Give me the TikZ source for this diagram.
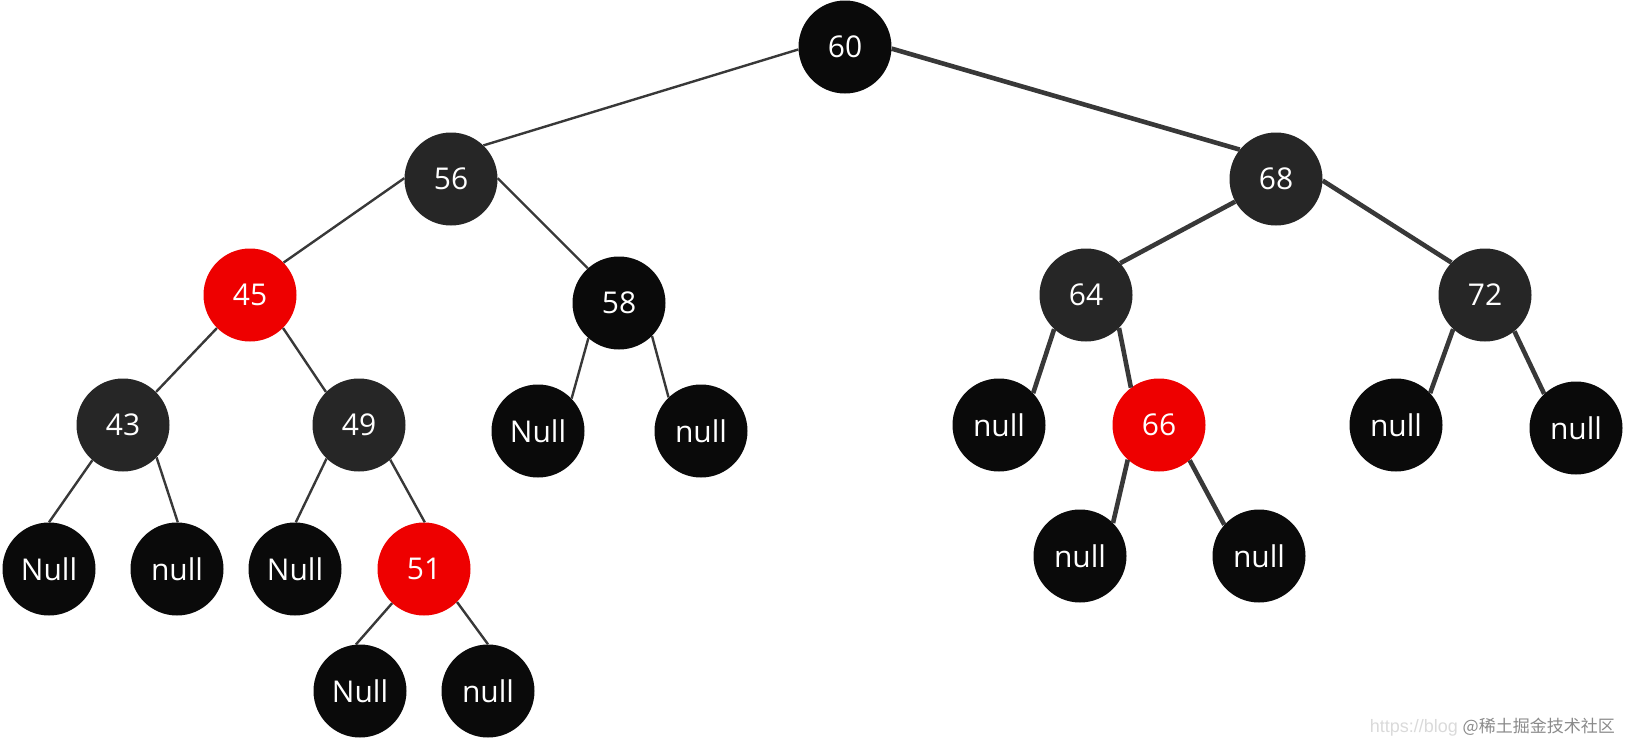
\documentclass[tikz,border=0pt]{standalone}
\usepackage{fontspec}
\setmainfont{Open Sans}
\newfontfamily\cjkfont{Noto Sans CJK SC}
\newfontfamily\wmfont{Liberation Sans}
\definecolor{nodeblack}{HTML}{0A0A0A}
\definecolor{nodegray}{HTML}{262626}
\definecolor{nodered}{HTML}{EE0000}
\definecolor{edgecol}{HTML}{383838}
\definecolor{wmlight}{HTML}{DADADA}
\definecolor{wmdark}{HTML}{8A8A8A}
\begin{document}
\begin{tikzpicture}[x=1pt,y=-1pt,
  tn/.style={circle,minimum size=93pt,inner sep=0pt,text=white,font=\fontsize{30}{32}\selectfont},
  blk/.style={tn,fill=nodeblack},
  gry/.style={tn,fill=nodegray},
  red/.style={tn,fill=nodered},
  thin/.style={draw=edgecol,line width=2.4pt},
  thick/.style={draw=edgecol,line width=4.6pt}]
\useasboundingbox (0,0) rectangle (1625,742);
% nodes
\node[blk] (n60) at (845,47) {60};
\node[gry] (n56) at (451,179) {56};
\node[gry] (n68) at (1276,179) {68};
\node[red] (n45) at (250,295) {45};
\node[blk] (n58) at (619,303) {58};
\node[gry] (n64) at (1086,295) {64};
\node[gry] (n72) at (1485,295) {72};
\node[gry] (n43) at (123,425) {43};
\node[gry] (n49) at (359,425) {49};
\node[blk] (nN58) at (538,431) {Null};
\node[blk] (nn58) at (701,431) {null};
\node[blk] (nn64) at (999,425) {null};
\node[red] (n66) at (1159,425) {66};
\node[blk] (nn72a) at (1396,425) {null};
\node[blk] (nn72b) at (1576,428) {null};
\node[blk] (nN43) at (49,569) {Null};
\node[blk] (nn43) at (177,569) {null};
\node[blk] (nN49) at (295,569) {Null};
\node[red] (n51) at (424,569) {51};
\node[blk] (nn66a) at (1080,556) {null};
\node[blk] (nn66b) at (1259,556) {null};
\node[blk] (nN51) at (360,691) {Null};
\node[blk] (nn51) at (488,691) {null};
% edges
\draw[thin] (n60.183) -- (n56.46);
\draw[thick] (n60.358) -- (n68.141);
\draw[thin] (n56.179) -- (n45.44);
\draw[thin] (n56.1) -- (n58.132);
\draw[thin] (n45.225) -- (n43.45);
\draw[thin] (n45.315) -- (n49.135);
\draw[thin] (n58.229) -- (nN58.44);
\draw[thin] (n58.315) -- (nn58.134);
\draw[thin] (n43.229) -- (nN43.90);
\draw[thin] (n43.316) -- (nn43.89);
\draw[thin] (n49.226) -- (nN49.89);
\draw[thin] (n49.312) -- (n51.89);
\draw[thin] (n51.227) -- (nN51.95);
\draw[thin] (n51.315) -- (nn51.90);
\draw[thick] (n68.209) -- (n64.43);
\draw[thick] (n68.358) -- (n72.136);
\draw[thick] (n64.227) -- (nn64.43);
\draw[thick] (n64.315) -- (n66.127);
\draw[thick] (n66.228) -- (nn66a.45);
\draw[thick] (n66.311) -- (nn66b.138);
\draw[thick] (n72.227) -- (nn72a.43);
\draw[thick] (n72.309) -- (nn72b.133);
% watermark
\node[anchor=base east,inner sep=0pt,text=wmlight,font=\wmfont\fontsize{18}{19}\selectfont] (wm1) at (1458,732) {https://blog};
\node[anchor=base east,inner sep=0pt,text=wmdark,font=\cjkfont\fontsize{17}{18}\selectfont] (wm2) at (1615,732) {@稀土掘金技术社区};
\end{tikzpicture}
\end{document}
